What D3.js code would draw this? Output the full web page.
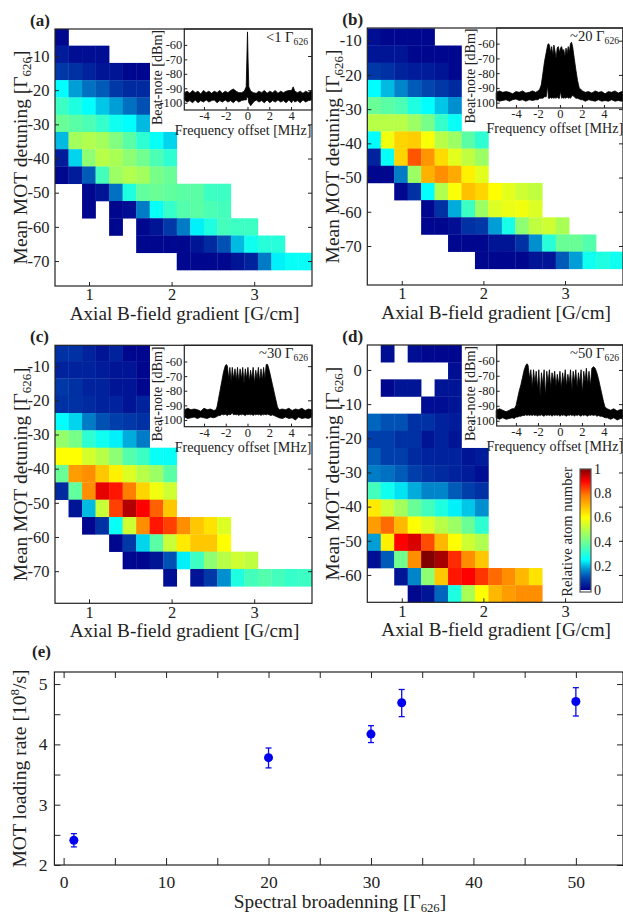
<!DOCTYPE html>
<html>
<head>
<meta charset="utf-8">
<script src="https://d3js.org/d3.v7.min.js"></script>
<style>
  body { margin: 0; background: #fff; }
  svg { display: block; }
  text { font-family: "Liberation Serif", serif; fill: #222; }
  .tick line { stroke: #222; }
</style>
</head>
<body>
<script>
// heat maps: relative atom number, one row per detuning, null = no atoms
const _ = null;
const rowsA = [-4.45, -9.5, -14.55, -19.6, -24.65, -29.7, -34.75, -39.8, -44.85, -49.9, -54.95, -60, -65.05, -70.1];
const heatA = [
  [.01,_,_,_,_,_,_,_,_,_,_,_,_,_,_,_,_,_,_],
  [.04,.02,.02,.02,_,_,_,_,_,_,_,_,_,_,_,_,_,_,_],
  [.08,.07,.05,.03,.03,.01,.01,_,_,_,_,_,_,_,_,_,_,_,_],
  [.25,.18,.14,.12,.08,.06,.06,_,_,_,_,_,_,_,_,_,_,_,_],
  [.33,.29,.25,.21,.18,.14,.11,_,_,_,_,_,_,_,_,_,_,_,_],
  [.39,.37,.35,.32,.27,.25,.2,_,_,_,_,_,_,_,_,_,_,_,_],
  [.2,.47,.49,.47,.42,.37,.31,.26,.22,_,_,_,_,_,_,_,_,_,_],
  [.04,.22,.44,.5,.48,.44,.4,.35,.31,_,_,_,_,_,_,_,_,_,_],
  [.01,.04,.12,.34,.46,.49,.47,.41,.39,_,_,_,_,_,_,_,_,_,_],
  [_,_,.01,.03,.14,.29,.38,.39,.38,.37,.37,.33,.33,_,_,_,_,_,_],
  [_,_,.01,_,.01,.02,.15,.26,.32,.36,.37,.35,.34,_,_,_,_,_,_],
  [_,_,_,_,.01,_,.01,.03,.08,.15,.24,.29,.34,.33,.33,_,_,_,_],
  [_,_,_,_,_,_,.01,.01,.01,.01,.03,.06,.11,.2,.27,.3,.3,_,_],
  [_,_,_,_,_,_,_,_,_,.01,.01,.01,.01,.03,.05,.15,.24,.26,.26]
];

const rowsB = [-8.9, -13.92, -18.94, -23.96, -28.98, -34, -39.02, -44.04, -49.06, -54.08, -59.1, -64.12, -69.14, -74.16];
const heatB = [
  [.02,.01,.01,.01,.01,_,_,_,_,_,_,_,_,_,_,_,_,_,_],
  [.03,.03,.03,.01,.01,.01,.01,_,_,_,_,_,_,_,_,_,_,_,_],
  [.08,.07,.05,.04,.04,.03,.01,_,_,_,_,_,_,_,_,_,_,_,_],
  [.25,.2,.16,.12,.1,.08,.06,_,_,_,_,_,_,_,_,_,_,_,_],
  [.39,.37,.35,.29,.25,.21,.17,_,_,_,_,_,_,_,_,_,_,_,_],
  [.5,.5,.5,.46,.41,.32,.26,_,_,_,_,_,_,_,_,_,_,_,_],
  [.25,.58,.66,.67,.59,.5,.46,.37,.31,_,_,_,_,_,_,_,_,_,_],
  [.05,.26,.66,.82,.75,.65,.56,.51,.46,_,_,_,_,_,_,_,_,_,_],
  [.01,.01,.15,.46,.71,.76,.72,.62,.56,_,_,_,_,_,_,_,_,_,_],
  [_,_,.01,.07,.25,.49,.59,.69,.66,.6,.56,.53,.51,_,_,_,_,_,_],
  [_,_,_,_,.01,.07,.19,.33,.46,.55,.57,.58,.55,_,_,_,_,_,_],
  [_,_,_,_,.01,.01,.02,.07,.08,.18,.28,.44,.51,.53,.48,_,_,_,_],
  [_,_,_,_,_,_,.01,.01,.01,.03,.03,.07,.17,.3,.39,.39,.36,_,_],
  [_,_,_,_,_,_,_,_,.01,.01,.01,.01,.03,.03,.12,.18,.27,.29,.27]
];

const rowsC = [-5.98, -11.05, -16.12, -21.19, -26.26, -31.33, -36.4, -41.47, -46.54, -51.61, -56.68, -61.75, -66.82, -71.89];
const heatC = [
  [.07,.07,.05,.03,.05,.01,.01,_,_,_,_,_,_,_,_,_,_,_,_],
  [.05,.05,.05,.04,.03,.03,.01,_,_,_,_,_,_,_,_,_,_,_,_],
  [.08,.07,.05,.05,.03,.03,.01,_,_,_,_,_,_,_,_,_,_,_,_],
  [.07,.07,.06,.05,.05,.03,.05,_,_,_,_,_,_,_,_,_,_,_,_],
  [.25,.22,.15,.11,.09,.08,.07,_,_,_,_,_,_,_,_,_,_,_,_],
  [.45,.41,.31,.27,.24,.19,.15,_,_,_,_,_,_,_,_,_,_,_,_],
  [.6,.6,.54,.5,.44,.36,.33,.26,.26,_,_,_,_,_,_,_,_,_,_],
  [.39,.74,.76,.68,.62,.55,.5,.46,.37,_,_,_,_,_,_,_,_,_,_],
  [.06,.38,.76,.92,.88,.78,.66,.58,.53,_,_,_,_,_,_,_,_,_,_],
  [_,.03,.2,.52,.84,.96,.9,.81,.68,_,_,_,_,_,_,_,_,_,_],
  [_,_,.01,.07,.26,.53,.76,.88,.84,.76,.68,.64,.55,_,_,_,_,_,_],
  [_,_,_,_,.01,.08,.22,.37,.52,.63,.68,.68,.6,_,_,_,_,_,_],
  [_,_,_,_,_,.01,.01,.03,.11,.24,.33,.44,.5,.53,.51,_,_,_,_],
  [_,_,_,_,_,_,_,_,.02,_,.03,.08,.17,.29,.34,.36,.34,.32,.33]
];

const rowsD = [4.78, -0.24, -5.26, -10.28, -15.3, -20.32, -25.34, -30.36, -35.38, -40.4, -45.42, -50.44, -55.46, -60.48, -65.5];
const heatD = [
  [_,.02,_,.02,.01,.01,.01,_,_,_,_,_,_,_,_,_,_,_,_],
  [_,_,_,_,_,_,.02,_,_,_,_,_,_,_,_,_,_,_,_],
  [_,.01,.03,.03,_,.03,.03,_,_,_,_,_,_,_,_,_,_,_,_],
  [_,_,_,_,.02,.02,.03,_,_,_,_,_,_,_,_,_,_,_,_],
  [.13,.11,.11,.07,.07,.05,.04,_,_,_,_,_,_,_,_,_,_,_,_],
  [.09,.09,.07,.07,.03,.05,.03,_,_,_,_,_,_,_,_,_,_,_,_],
  [.12,.09,.09,.06,.05,.05,.05,.03,.04,_,_,_,_,_,_,_,_,_,_],
  [.15,.14,.12,.09,.07,.06,.05,.04,.02,_,_,_,_,_,_,_,_,_,_],
  [.34,.27,.23,.19,.16,.16,.12,.09,.07,_,_,_,_,_,_,_,_,_,_],
  [.63,.53,.47,.39,.34,.29,.24,.21,.17,_,_,_,_,_,_,_,_,_,_],
  [.74,.8,.7,.6,.55,.5,.46,.39,.31,_,_,_,_,_,_,_,_,_,_],
  [.18,.62,.9,.93,.83,.7,.6,.53,.49,_,_,_,_,_,_,_,_,_,_],
  [.02,.12,.4,.76,1,.97,.86,.76,.68,_,_,_,_,_,_,_,_,_,_],
  [_,_,.03,.16,.44,.68,.88,.9,.85,.8,.76,.7,.64,_,_,_,_,_,_],
  [_,_,_,.01,.03,.13,.29,.48,.6,.7,.74,.76,.76,_,_,_,_,_,_]
];

// beat-note spectra: upper and lower edge of the trace
const freqA = [
  -5.8,-5.55,-5.3,-5.05,-4.8,-4.55,-4.3,-4.05,-3.8,-3.55,
  -3.3,-3.05,-2.8,-2.55,-2.3,-2.05,-1.8,-1.55,-1.3,-1.05,
  -0.8,-0.55,-0.3,-0.12,-0.06,0,0.06,0.12,0.3,0.55,
  0.8,1.05,1.3,1.55,1.8,2.05,2.3,2.55,2.8,3.05,
  3.3,3.55,3.8,4.05,4.2,4.35,4.6,4.85,5.1,5.35,
  5.6,5.9];
const upperA = [
  -93,-92,-93.5,-91.5,-93,-92,-94,-91.5,-93,-92,
  -93.5,-92,-93,-91.5,-93.5,-92,-93,-91.5,-90.5,-92,
  -93,-93,-92,-89,-70,-51,-72,-89,-92,-93,
  -93.5,-92,-93,-91.5,-93.5,-92,-93,-91.5,-93.5,-92,
  -93,-92,-91.5,-91.5,-89,-92,-93,-92,-93.5,-92,
  -93,-91.5];
const lowerA = [
  -98,-99.5,-98.5,-100,-98,-100,-98.5,-99.5,-98,-99.5,
  -98.5,-98,-100,-98.5,-99.5,-98,-99.5,-98.5,-100,-98,
  -99.5,-98.5,-98,-98,-96,-96,-97,-100,-102,-99.5,
  -98,-99.5,-98.5,-100,-98,-100,-98.5,-99.5,-98,-99.5,
  -98.5,-100,-98,-100,-98,-99.5,-98.5,-100,-98,-99.5,
  -98.5,-98];

const freqB = [
  -5.8,-5.5,-5.2,-4.9,-4.6,-4.3,-4,-3.7,-3.4,-3.1,
  -2.8,-2.5,-2.2,-2,-1.85,-1.7,-1.55,-1.4,-1.25,-1.12,
  -1.05,-0.95,-0.85,-0.75,-0.65,-0.55,-0.45,-0.35,-0.25,-0.15,
  -0.05,0.05,0.15,0.25,0.35,0.45,0.55,0.65,0.75,0.85,
  0.95,1.05,1.15,1.3,1.45,1.6,1.75,1.9,2.05,2.3,
  2.6,2.9,3.2,3.5,3.8,4.1,4.4,4.7,5,5.3,
  5.6,5.9];
const upperB = [
  -93,-92,-93,-92.5,-93,-94,-92.5,-93,-92,-93.5,
  -93,-92,-93,-92,-91,-88,-80,-72,-66,-61,
  -60,-61,-66,-62,-68,-61,-65,-70,-63,-62,
  -66,-63,-62,-65,-64,-69,-63,-67,-62,-66,
  -60,-59,-62,-70,-78,-85,-90,-91,-92,-93,
  -92.5,-93.5,-92,-93,-92.5,-94,-92.5,-93,-92,-93.5,
  -92.5,-93];
const lowerB = [
  -98,-99,-98.5,-98,-99,-98,-97.5,-98.5,-98,-99,
  -98,-98.5,-98,-98,-97,-97,-97,-96,-96,-88,
  -97,-97,-96.5,-97,-96.5,-97,-96.5,-97,-96,-97,
  -97,-92,-97,-96.5,-97,-96.5,-97,-96,-97,-96.5,
  -97,-96,-95,-96,-97,-97,-97.5,-98,-98,-99,
  -98,-98.5,-99,-98,-99,-98.5,-99,-98,-99,-98.5,
  -99,-98];

const freqC = [
  -5.8,-5.5,-5.2,-4.9,-4.6,-4.3,-4,-3.7,-3.4,-3.1,
  -2.9,-2.8,-2.65,-2.5,-2.35,-2.2,-2.05,-1.95,-1.85,-1.72,
  -1.62,-1.5,-1.4,-1.28,-1.15,-1.03,-0.92,-0.8,-0.68,-0.56,
  -0.44,-0.32,-0.2,-0.08,0.04,0.16,0.28,0.4,0.52,0.64,
  0.76,0.88,1,1.12,1.24,1.36,1.48,1.6,1.72,1.85,
  2,2.15,2.3,2.45,2.6,2.75,2.9,3.2,3.5,3.8,
  4.1,4.4,4.7,5,5.3,5.6,5.9];
const upperC = [
  -93,-92,-93,-92.5,-93,-94,-92,-93,-92.5,-93.5,
  -93,-91,-85,-79,-73,-67,-63,-62,-63,-72,
  -64,-74,-64,-72,-65,-73,-64,-74,-65,-72,
  -64,-75,-65,-72,-64,-74,-66,-72,-64,-75,
  -66,-72,-64,-74,-65,-73,-64,-72,-62,-62,
  -66,-71,-76,-81,-86,-91,-93,-92.5,-93,-92,
  -93.5,-92.5,-93,-92,-93.5,-92.5,-93];
const lowerC = [
  -98,-99,-98.5,-98,-99,-98,-98.5,-99,-98,-98.5,
  -98,-97.5,-97,-97,-96,-96.5,-96,-96.5,-97,-96,
  -96.5,-96,-95,-96.5,-96,-96.5,-96,-97,-96,-96.5,
  -96,-96.5,-97,-96,-96.5,-96,-96.5,-96,-97,-96,
  -96.5,-96,-96.5,-96,-97,-96,-96.5,-96,-96.5,-96,
  -96.5,-97,-96.5,-97,-97.5,-98,-98.5,-99,-98,-99,
  -98.5,-100,-98,-99,-98.5,-99,-98];

const freqD = [
  -5.8,-5.5,-5.2,-4.9,-4.6,-4.35,-4.15,-4,-3.85,-3.7,
  -3.55,-3.4,-3.25,-3.1,-3,-2.9,-2.75,-2.65,-2.52,-2.4,
  -2.28,-2.16,-2.04,-1.92,-1.8,-1.68,-1.56,-1.44,-1.32,-1.2,
  -1.08,-0.96,-0.84,-0.72,-0.6,-0.48,-0.36,-0.24,-0.12,0,
  0.12,0.24,0.36,0.48,0.6,0.72,0.84,0.96,1.08,1.2,
  1.32,1.44,1.56,1.68,1.8,1.92,2.04,2.16,2.28,2.4,
  2.52,2.64,2.76,2.9,3.05,3.2,3.35,3.5,3.65,3.8,
  3.95,4.1,4.3,4.6,4.9,5.2,5.5,5.9];
const upperD = [
  -93,-92,-93,-94,-93,-92,-92,-90,-85,-80,
  -76,-71,-66,-63,-62,-63,-72,-66,-78,-66,
  -75,-67,-79,-66,-84,-68,-76,-66,-84,-67,
  -75,-66,-78,-68,-74,-67,-77,-69,-76,-67,
  -79,-68,-75,-66,-77,-69,-75,-66,-80,-67,
  -74,-66,-78,-68,-75,-66,-82,-67,-74,-65,
  -76,-67,-77,-65,-64,-65,-68,-72,-77,-82,
  -87,-91,-92,-93,-92,-93.5,-92.5,-93];
const lowerD = [
  -98,-99,-98,-99,-98.5,-98,-98.5,-97.5,-97.5,-97,
  -97,-96.5,-96.5,-96,-96.5,-96,-96.5,-96,-96.5,-96,
  -96.5,-96,-97,-96,-96.5,-96,-96.5,-97,-96,-96.5,
  -96,-96.5,-96,-97,-96,-96.5,-96,-96.5,-96,-97,
  -96,-96.5,-96,-96.5,-97,-96,-96.5,-96,-96.5,-96,
  -97,-96,-96.5,-96,-96.5,-97,-96,-96.5,-96,-96.5,
  -97,-96,-96.5,-96,-96.5,-96,-97,-96.5,-97,-97,
  -97.5,-98,-98,-99,-98,-99.5,-98.5,-99];

// loading rate vs broadening
const broadening = [1, 20, 30, 33, 50];
const loadRate = [2.41, 3.78, 4.17, 4.69, 4.71];
const loadLow = [2.3, 3.61, 4.03, 4.46, 4.47];
const loadHigh = [2.52, 3.94, 4.31, 4.91, 4.94];

// colour bar
const colorTicks = [0, 0.2, 0.4, 0.6, 0.8, 1];
const colorStops = [0, 0.1, 0.17, 0.25, 0.42, 0.6, 0.78, 0.9, 1];
const colorHex = ["#00008c", "#0046ae", "#0090d0", "#00ffff", "#80ff80", "#ffff00", "#ff8000", "#ff0000", "#800000"];

const w = 623;
const h = 914;

const color = d3.scaleLinear().domain(colorStops).range(colorHex);

const svg = d3.select("body")
    .append("svg")
    .attr("width", w)
    .attr("height", h);

// text with a gamma and subscript 626 in it
function gammaLabel(sel, before, after, size) {
    sel.append("tspan").text(before + "Γ");
    sel.append("tspan")
        .attr("font-size", size * 0.66)
        .attr("dy", size * 0.2)
        .text("626");
    if (after) {
        sel.append("tspan").attr("dy", -size * 0.2).text(after);
    }
}

function frame(g, box, width) {
    g.append("rect")
        .attr("x", box.left)
        .attr("y", box.top)
        .attr("width", box.right - box.left)
        .attr("height", box.bottom - box.top)
        .attr("fill", "none")
        .attr("stroke", "#222")
        .attr("stroke-width", width);
}

function drawPanel(p, i) {
    const g = svg.append("g");
    const box = p.box;

    const x = d3.scaleLinear().domain(p.xDomain).range([box.left, box.right]);
    const y = d3.scaleLinear().domain(p.yDomain).range([box.bottom, box.top]);
    const band = d3.scaleBand().domain(d3.range(19)).range([box.left, box.right]);

    g.append("clipPath").attr("id", "clip" + i)
        .append("rect")
        .attr("x", box.left).attr("y", box.top)
        .attr("width", box.right - box.left)
        .attr("height", box.bottom - box.top);

    const cells = [];
    p.heat.forEach((row, r) => row.forEach((v, c) => {
        if (v !== null) cells.push({ c: c, det: p.rows[r], v: v });
    }));

    g.append("g")
        .attr("clip-path", `url(#clip${i})`)
        .selectAll("rect")
        .data(cells)
        .enter().append("rect")
        .attr("x", d => band(d.c))
        .attr("y", d => y(d.det + p.rowStep / 2))
        .attr("width", band.bandwidth() + 0.3)
        .attr("height", d => y(d.det - p.rowStep / 2) - y(d.det + p.rowStep / 2) + 0.3)
        .attr("fill", d => color(d.v));

    const ticksX = [1, 2, 3];
    const ticksY = p.yTicks;

    g.append("g")
        .attr("transform", `translate(0,${box.bottom})`)
        .call(d3.axisBottom(x).tickValues(ticksX).tickSizeInner(-4).tickSizeOuter(0).tickPadding(2.5).tickFormat(d => String(d)))
        .call(a => a.select(".domain").remove())
        .selectAll("text").attr("font-size", 16.5);

    g.append("g")
        .attr("transform", `translate(${box.left},0)`)
        .call(d3.axisLeft(y).tickValues(ticksY).tickSizeInner(-4).tickSizeOuter(0).tickPadding(5.5).tickFormat(d => String(d)))
        .call(a => a.select(".domain").remove())
        .selectAll("text").attr("font-size", 16.5);

    g.append("g")
        .attr("transform", `translate(${box.right},0)`)
        .call(d3.axisRight(y).tickValues(ticksY).tickSizeInner(-4).tickSizeOuter(0).tickFormat(""))
        .call(a => a.select(".domain").remove());

    frame(g, box, 1.2);

    // axis titles
    g.append("text")
        .attr("x", (box.left + box.right) / 2 + 1)
        .attr("y", box.bottom + 33.5)
        .attr("text-anchor", "middle")
        .attr("font-size", 19.2)
        .text("Axial B-field gradient [G/cm]");

    g.append("text")
        .attr("transform", `translate(${box.left - 28},${(box.top + box.bottom) / 2}) rotate(-90)`)
        .attr("text-anchor", "middle")
        .attr("font-size", 19.5)
        .call(gammaLabel, "Mean MOT detuning [", "]", 19.5);

    g.append("text")
        .attr("x", box.left - 25)
        .attr("y", box.top - 3)
        .attr("font-size", 17)
        .attr("font-weight", "bold")
        .text(p.letter);

    drawInset(g, p);
}

function drawInset(g, p) {
    const box = p.inset;

    const x = d3.scaleLinear().domain(p.fDomain).range([box.left, box.right]);
    const y = d3.scaleLinear().domain(p.dbDomain).range([box.bottom, box.top]);

    const trace = p.freq.map((f, i) => ({ f: f, up: p.upper[i], low: p.lower[i] }));

    const area = d3.area()
        .x(d => x(d.f))
        .y0(d => y(d.low))
        .y1(d => y(d.up));

    g.append("path")
        .datum(trace)
        .attr("d", area)
        .attr("fill", "#000")
        .attr("stroke", "#000")
        .attr("stroke-width", 0.8);

    g.append("g")
        .attr("transform", `translate(0,${box.bottom})`)
        .call(d3.axisBottom(x).tickValues([-4, -2, 0, 2, 4]).tickSizeInner(-3).tickSizeOuter(0).tickPadding(1).tickFormat(d => String(d)))
        .call(a => a.select(".domain").remove())
        .selectAll("text").attr("font-size", 12.5);

    g.append("g")
        .attr("transform", `translate(${box.left},0)`)
        .call(d3.axisLeft(y).tickValues([-60, -70, -80, -90, -100]).tickSizeInner(-3).tickSizeOuter(0).tickPadding(2).tickFormat(d => String(d)))
        .call(a => a.select(".domain").remove())
        .selectAll("text").attr("font-size", 12.5);

    frame(g, box, 1.2);

    g.append("text")
        .attr("x", (box.left + box.right) / 2 - 5)
        .attr("y", box.bottom + 25)
        .attr("text-anchor", "middle")
        .attr("font-size", 14.1)
        .text("Frequency offset [MHz]");

    g.append("text")
        .attr("transform", `translate(${box.left - 22},${(box.top + box.bottom) / 2 + 8}) rotate(-90)`)
        .attr("text-anchor", "middle")
        .attr("font-size", 14.1)
        .text("Beat-note [dBm]");

    g.append("text")
        .attr("x", box.right - 4)
        .attr("y", box.top + 13)
        .attr("text-anchor", "end")
        .attr("font-size", 14.6)
        .call(gammaLabel, p.note + " ", "", 14.6);
}

const panels = [
    { letter: "(a)", box: { left: 55, right: 312, top: 29, bottom: 286 },
      xDomain: [0.588, 3.70], yDomain: [-77.3, -2.1], yTicks: [-10, -20, -30, -40, -50, -60, -70],
      rows: rowsA, heat: heatA, rowStep: 5.05,
      inset: { left: 184.3, right: 312, top: 29, bottom: 110 },
      fDomain: [-5.81, 5.93], dbDomain: [-105, -49],
      freq: freqA, upper: upperA, lower: lowerA, note: "<1" },
    { letter: "(b)", box: { left: 367.3, right: 623, top: 28, bottom: 285 },
      xDomain: [0.578, 3.71], yDomain: [-81.4, -6.29], yTicks: [-10, -20, -30, -40, -50, -60, -70],
      rows: rowsB, heat: heatB, rowStep: 5.02,
      inset: { left: 496.7, right: 623, top: 28, bottom: 108 },
      fDomain: [-5.75, 5.73], dbDomain: [-103.6, -49.4],
      freq: freqB, upper: upperB, lower: lowerB, note: "~20" },
    { letter: "(c)", box: { left: 55, right: 312, top: 345.3, bottom: 603.3 },
      xDomain: [0.588, 3.70], yDomain: [-79.4, -3.9], yTicks: [-10, -20, -30, -40, -50, -60, -70],
      rows: rowsC, heat: heatC, rowStep: 5.07,
      inset: { left: 184.3, right: 312, top: 345.3, bottom: 426.7 },
      fDomain: [-5.81, 5.93], dbDomain: [-104.6, -48.9],
      freq: freqC, upper: upperC, lower: lowerC, note: "~30" },
    { letter: "(d)", box: { left: 367.3, right: 623, top: 345, bottom: 602.3 },
      xDomain: [0.578, 3.71], yDomain: [-68, 7.3], yTicks: [0, -10, -20, -30, -40, -50, -60],
      rows: rowsD, heat: heatD, rowStep: 5.02,
      inset: { left: 496.7, right: 623, top: 345, bottom: 426 },
      fDomain: [-5.75, 5.73], dbDomain: [-103.5, -49.5],
      freq: freqD, upper: upperD, lower: lowerD, note: "~50" }
];

panels.forEach(drawPanel);

// colour bar in panel d
const barBox = { left: 580, right: 591, top: 469, bottom: 592 };

const barY = d3.scaleLinear().domain([0, 1]).range([barBox.bottom - 2, barBox.top]);

const defs = svg.append("defs");
const grad = defs.append("linearGradient")
    .attr("id", "jet")
    .attr("x1", 0).attr("x2", 0)
    .attr("y1", 1).attr("y2", 0);
grad.selectAll("stop")
    .data(colorStops)
    .enter().append("stop")
    .attr("offset", d => d)
    .attr("stop-color", d => color(d));

svg.append("rect")
    .attr("x", barBox.left)
    .attr("y", barY(1))
    .attr("width", barBox.right - barBox.left)
    .attr("height", barY(0) - barY(1))
    .attr("fill", "url(#jet)");

svg.append("rect")
    .attr("x", barBox.left)
    .attr("y", barBox.top)
    .attr("width", barBox.right - barBox.left)
    .attr("height", barBox.bottom - barBox.top)
    .attr("fill", "none")
    .attr("stroke", "#555")
    .attr("stroke-width", 1.2);

svg.append("g")
    .attr("transform", `translate(${barBox.right},0)`)
    .call(d3.axisRight(barY).tickValues(colorTicks).tickSize(0).tickPadding(3).tickFormat(d => String(d)))
    .call(a => a.select(".domain").remove())
    .selectAll("text").attr("font-size", 14);

svg.append("text")
    .attr("transform", "translate(572,532) rotate(-90)")
    .attr("text-anchor", "middle")
    .attr("font-size", 14.6)
    .text("Relative atom number");

// panel e
const margin = { top: 672, right: 623, bottom: 865, left: 54.4 };

const x = d3.scaleLinear().domain([-0.9, 54.6]).range([margin.left, margin.right]);
const y = d3.scaleLinear().domain([2, 5.2]).range([margin.bottom, margin.top]);

const xAxis = d3.axisBottom(x)
    .tickValues(d3.range(0, 55, 5))
    .tickSizeInner(-7)
    .tickSizeOuter(0)
    .tickPadding(11)
    .tickFormat(d => d % 10 === 0 ? String(d) : "");

const yAxis = d3.axisLeft(y)
    .tickValues(d3.range(2, 5.5, 0.5))
    .tickSizeInner(-6)
    .tickSizeOuter(0)
    .tickPadding(7)
    .tickFormat(d => Number.isInteger(d) ? String(d) : "");

svg.append("g")
    .attr("transform", `translate(0,${margin.bottom})`)
    .call(xAxis)
    .call(a => a.select(".domain").remove())
    .selectAll("text").attr("font-size", 17.5);

svg.append("g")
    .attr("transform", `translate(${margin.left},0)`)
    .call(yAxis)
    .call(a => a.select(".domain").remove())
    .selectAll("text").attr("font-size", 17.5);

svg.append("g")
    .attr("transform", `translate(0,${margin.top})`)
    .call(d3.axisTop(x).tickValues(d3.range(0, 55, 5)).tickSizeInner(-6).tickSizeOuter(0).tickFormat(""))
    .call(a => a.select(".domain").remove());

svg.append("g")
    .attr("transform", `translate(${margin.right},0)`)
    .call(d3.axisRight(y).tickValues(d3.range(2, 5.5, 0.5)).tickSizeInner(-6).tickSizeOuter(0).tickFormat(""))
    .call(a => a.select(".domain").remove());

frame(svg, margin, 1.2);

const points = broadening.map((b, i) => ({ b: b, rate: loadRate[i], low: loadLow[i], high: loadHigh[i] }));

const blue = "#0a0aee";
const dots = svg.append("g").selectAll("g")
    .data(points)
    .enter().append("g");

dots.append("line")
    .attr("x1", d => x(d.b)).attr("x2", d => x(d.b))
    .attr("y1", d => y(d.low)).attr("y2", d => y(d.high))
    .attr("stroke", blue).attr("stroke-width", 1.3);
dots.append("line")
    .attr("x1", d => x(d.b) - 3).attr("x2", d => x(d.b) + 3)
    .attr("y1", d => y(d.low)).attr("y2", d => y(d.low))
    .attr("stroke", blue).attr("stroke-width", 1.3);
dots.append("line")
    .attr("x1", d => x(d.b) - 3).attr("x2", d => x(d.b) + 3)
    .attr("y1", d => y(d.high)).attr("y2", d => y(d.high))
    .attr("stroke", blue).attr("stroke-width", 1.3);
dots.append("circle")
    .attr("cx", d => x(d.b))
    .attr("cy", d => y(d.rate))
    .attr("r", 4.5)
    .attr("fill", "#0000f0");

svg.append("text")
    .attr("x", 340)
    .attr("y", 908)
    .attr("text-anchor", "middle")
    .attr("font-size", 19.3)
    .call(gammaLabel, "Spectral broadenning [", "]", 19.3);

const yLabel = svg.append("text")
    .attr("transform", `translate(26,${(margin.top + margin.bottom) / 2}) rotate(-90)`)
    .attr("text-anchor", "middle")
    .attr("font-size", 19.6);
yLabel.append("tspan").text("MOT loading rate [10");
yLabel.append("tspan").attr("font-size", 13).attr("dy", -7).text("8");
yLabel.append("tspan").attr("dy", 7).text("/s]");

svg.append("text")
    .attr("x", 32)
    .attr("y", 657)
    .attr("font-size", 17)
    .attr("font-weight", "bold")
    .text("(e)");
</script>
</body>
</html>
